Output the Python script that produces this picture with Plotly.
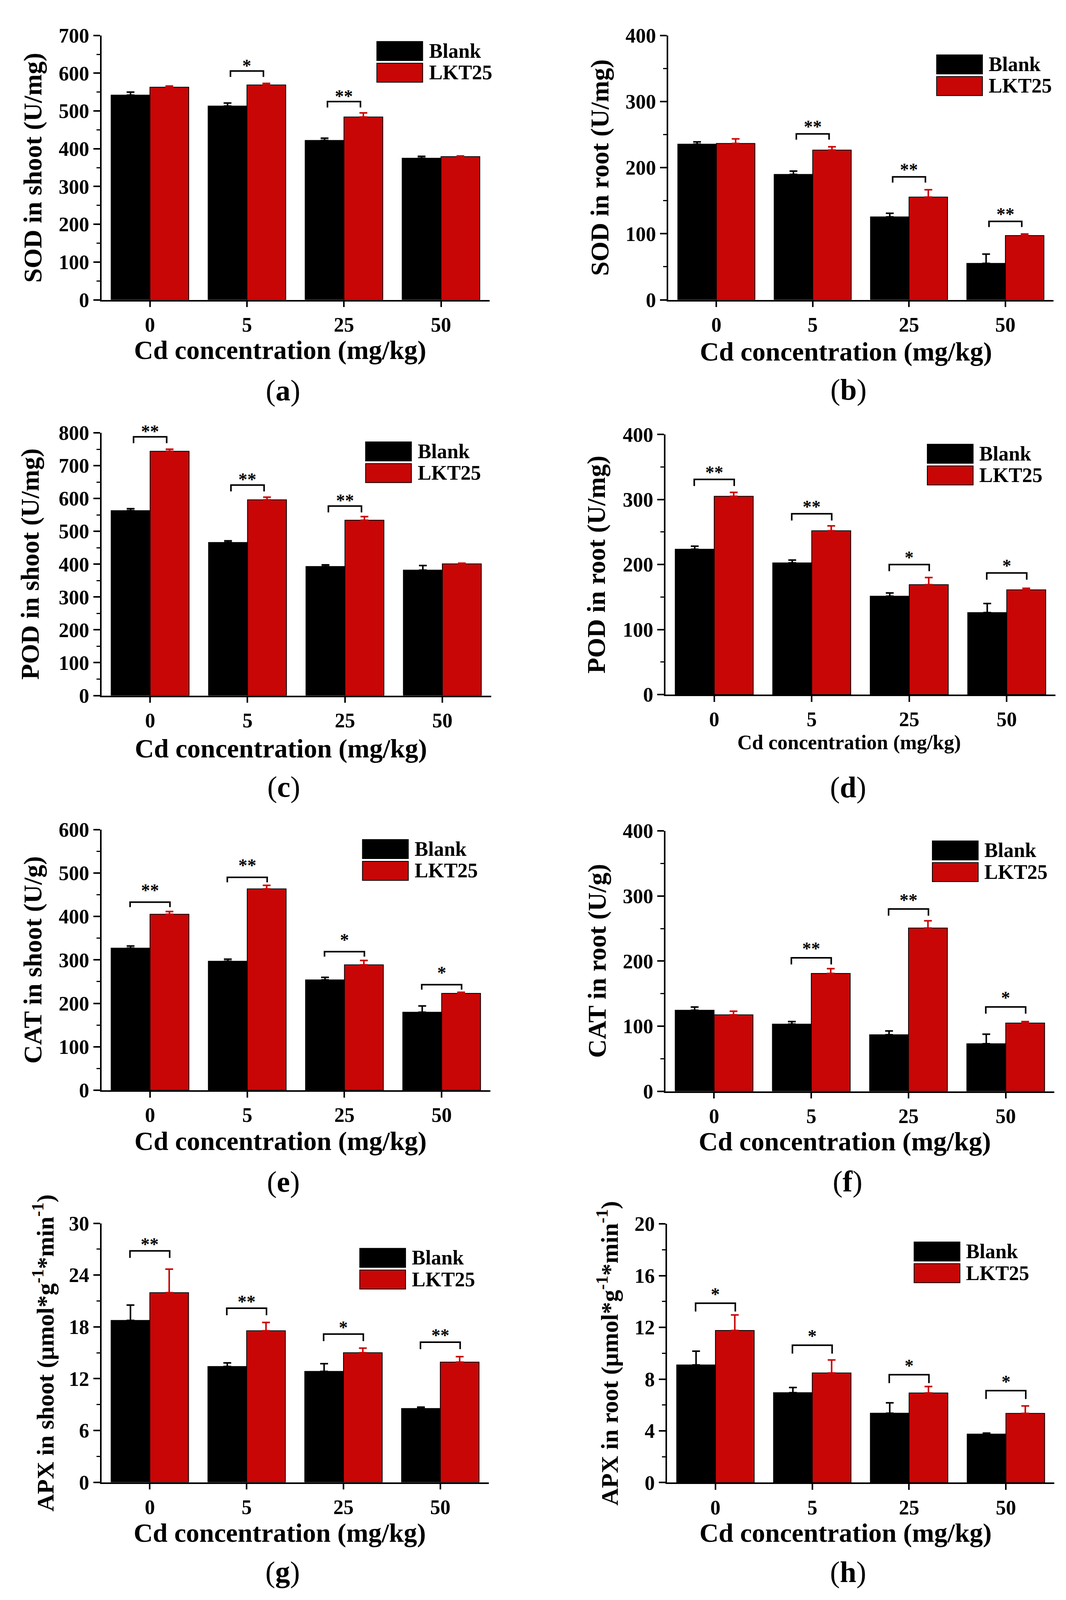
import plotly.graph_objects as go

# categories on the x axis (Cd concentration, mg/kg)
categories = ["0", "5", "25", "50"]

# (a) SOD in shoot
sod_shoot_blank = [542, 513, 422, 375]
sod_shoot_blank_err = [8, 8, 6, 5]
sod_shoot_lkt = [563, 569, 484, 379]
sod_shoot_lkt_err = [3, 4, 11, 2]
sod_shoot_sig = ["", "*", "**", ""]
sod_shoot_sig_y = [None, 606, 525, None]

# (b) SOD in root
sod_root_blank = [235.5, 189.7, 125.4, 55.2]
sod_root_blank_err = [3.5, 5, 5.6, 14]
sod_root_lkt = [236.6, 226.5, 155.5, 97.3]
sod_root_lkt_err = [7, 5, 11, 2.3]
sod_root_sig = ["", "**", "**", "**"]
sod_root_sig_y = [None, 251, 186, 118.7]

# (c) POD in shoot
pod_shoot_blank = [563, 466, 393, 382]
pod_shoot_blank_err = [6, 5, 5, 14]
pod_shoot_lkt = [744, 596, 534, 401]
pod_shoot_lkt_err = [6, 8, 11, 2]
pod_shoot_sig = ["**", "**", "**", ""]
pod_shoot_sig_y = [788, 641, 577, None]

# (d) POD in root
pod_root_blank = [223.5, 202.5, 151.3, 126]
pod_root_blank_err = [4.7, 4.3, 5, 14]
pod_root_lkt = [305, 252, 169, 161]
pod_root_lkt_err = [6, 7.4, 11, 2.5]
pod_root_sig = ["**", "**", "*", "*"]
pod_root_sig_y = [331, 278, 200, 187]

# (e) CAT in shoot
cat_shoot_blank = [327, 297, 254, 179.5]
cat_shoot_blank_err = [5, 4.6, 5.8, 14.5]
cat_shoot_lkt = [405, 463.5, 288.7, 223]
cat_shoot_lkt_err = [6.4, 8, 10, 2.4]
cat_shoot_sig = ["**", "**", "*", "*"]
cat_shoot_sig_y = [433, 490, 319, 243]

# (f) CAT in root
cat_root_blank = [124.4, 103.1, 86.8, 72.9]
cat_root_blank_err = [5, 3.9, 5.8, 14.7]
cat_root_lkt = [117.4, 181, 250.8, 104.7]
cat_root_lkt_err = [5.5, 7.4, 11, 2.3]
cat_root_sig = ["", "**", "**", "*"]
cat_root_sig_y = [None, 205, 280, 129.5]

# (g) APX in shoot
apx_shoot_blank = [18.75, 13.41, 12.84, 8.55]
apx_shoot_blank_err = [1.77, 0.42, 0.9, 0.15]
apx_shoot_lkt = [21.96, 17.55, 15.0, 13.92]
apx_shoot_lkt_err = [2.73, 0.96, 0.54, 0.63]
apx_shoot_sig = ["**", "**", "*", "**"]
apx_shoot_sig_y = [26.8, 20.16, 17.16, 16.23]

# (h) APX in root
apx_root_blank = [9.1, 6.95, 5.37, 3.75]
apx_root_blank_err = [1.06, 0.4, 0.8, 0.08]
apx_root_lkt = [11.76, 8.48, 6.93, 5.35]
apx_root_lkt_err = [1.2, 1.0, 0.5, 0.58]
apx_root_sig = ["*", "*", "*", "*"]
apx_root_sig_y = [13.87, 10.62, 8.34, 7.11]

y_titles = [
    "SOD in shoot (U/mg)", "SOD in root (U/mg)",
    "POD in shoot (U/mg)", "POD in root (U/mg)",
    "CAT in shoot (U/g)", "CAT in root (U/g)",
    "APX in shoot (μmol*g<sup>-1</sup>*min<sup>-1</sup>)",
    "APX in root (μmol*g<sup>-1</sup>*min<sup>-1</sup>)",
]
y_max = [700, 400, 800, 400, 600, 400, 30, 20]
y_dtick = [100, 100, 100, 100, 100, 100, 6, 4]
panel_labels = ["a", "b", "c", "d", "e", "f", "g", "h"]
x_title = "Cd concentration (mg/kg)"
legend_names = ["Blank", "LKT25"]

series = [
    (sod_shoot_blank, sod_shoot_blank_err, sod_shoot_lkt, sod_shoot_lkt_err, sod_shoot_sig, sod_shoot_sig_y),
    (sod_root_blank, sod_root_blank_err, sod_root_lkt, sod_root_lkt_err, sod_root_sig, sod_root_sig_y),
    (pod_shoot_blank, pod_shoot_blank_err, pod_shoot_lkt, pod_shoot_lkt_err, pod_shoot_sig, pod_shoot_sig_y),
    (pod_root_blank, pod_root_blank_err, pod_root_lkt, pod_root_lkt_err, pod_root_sig, pod_root_sig_y),
    (cat_shoot_blank, cat_shoot_blank_err, cat_shoot_lkt, cat_shoot_lkt_err, cat_shoot_sig, cat_shoot_sig_y),
    (cat_root_blank, cat_root_blank_err, cat_root_lkt, cat_root_lkt_err, cat_root_sig, cat_root_sig_y),
    (apx_shoot_blank, apx_shoot_blank_err, apx_shoot_lkt, apx_shoot_lkt_err, apx_shoot_sig, apx_shoot_sig_y),
    (apx_root_blank, apx_root_blank_err, apx_root_lkt, apx_root_lkt_err, apx_root_sig, apx_root_sig_y),
]

# layout is designed on a 2728 x 4702 sheet, placed in paper fractions so the
# figure can fill whatever viewport the page gets
W, H = 2728, 4702
FONT = "Liberation Serif"
BLACK = "#000000"
RED = "#C80606"

# page pixels: axis left, axis right, axis top, axis bottom
boxes = [
    (253, 1252, 64, 855), (1712, 2704, 64, 855),
    (253, 1256, 1253, 2039), (1705, 2709, 1258, 2036),
    (253, 1254, 2440, 3220), (1705, 2706, 2444, 3223),
    (253, 1250, 3618, 4393), (1709, 2706, 3620, 4394),
]
legend_pos = [(962, 82), (2403, 122), (933, 1280), (2379, 1287),
              (925, 2470), (2392, 2474), (918, 3693), (2345, 3674)]
ytitle_off = [176, 176, 183, 178, 176, 176, 149, 153]
ytitle_size = [66, 66, 66, 66, 66, 66, 62, 62]
# pixel offsets below the x axis line
xtitle_off = [128, 132, 135, 123, 130, 128, 129, 129]
xtitle_size = [68, 68, 68, 52, 68, 68, 68, 68]
xtitle_frac = [0.461, 0.461, 0.461, 0.471, 0.461, 0.461, 0.461, 0.461]
label_off = [232, 230, 234, 238, 234, 231, 230, 229]
bracket_hw = [0.17, 0.17, 0.17, 0.205, 0.205, 0.205, 0.205, 0.205]
bracket_leg = [18, 17, 19, 20, 15, 20, 21, 25]
star_off = [19, 24, 20, 24, 36, 29, 23, 29]


def px(x):
    return x / W


def py(y):
    return 1 - y / H


fig = go.Figure()
shapes = []
annotations = []

for i, (b, be, l, le, sig, sig_y) in enumerate(series):
    n = "" if i == 0 else str(i + 1)
    xa, ya = "x" + n, "y" + n
    x0, x1, yt, yb = boxes[i]
    for vals, errs, col in ((b, be, BLACK), (l, le, RED)):
        fig.add_trace(go.Bar(
            x=categories, y=vals, xaxis=xa, yaxis=ya, showlegend=False,
            marker=dict(color=col, line=dict(color=BLACK, width=2)),
            error_y=dict(type="data", array=errs, arrayminus=[0] * len(errs),
                         symmetric=False, color=col, thickness=4, width=10),
        ))

    ax = dict(domain=[px(x0), px(x1)], anchor=ya, range=[-0.5, 3.5],
              showline=True, linecolor=BLACK, linewidth=3.5,
              ticks="outside", ticklen=15, tickwidth=3.5, tickcolor=BLACK,
              tickfont=dict(family=FONT, size=52, color=BLACK, weight="bold"),
              showgrid=False, zeroline=False, fixedrange=True)
    ay = dict(domain=[py(yb), py(yt)], anchor=xa, range=[0, y_max[i]],
              dtick=y_dtick[i], showline=True, linecolor=BLACK, linewidth=3.5,
              ticks="outside", ticklen=17, tickwidth=3.5, tickcolor=BLACK,
              tickfont=dict(family=FONT, size=52, color=BLACK, weight="bold"),
              minor=dict(dtick=y_dtick[i] / 2, ticks="outside", ticklen=9,
                         tickwidth=3, tickcolor=BLACK),
              showgrid=False, zeroline=False, fixedrange=True)
    fig.update_layout({"xaxis" + n: ax, "yaxis" + n: ay})

    # significance brackets
    unit = y_max[i] / (yb - yt)
    leg = bracket_leg[i] * unit
    hw = bracket_hw[i]
    for k, s in enumerate(sig):
        if not s:
            continue
        yy = sig_y[k]
        shapes.append(dict(
            type="path", xref=xa, yref=ya,
            path=f"M {k - hw},{yy - leg} L {k - hw},{yy} L {k + hw},{yy} L {k + hw},{yy - leg}",
            line=dict(color=BLACK, width=4)))
        annotations.append(dict(
            x=k, y=yy, xref=xa, yref=ya, text=s, showarrow=False,
            yanchor="middle", yshift=star_off[i] - 6,
            font=dict(family=FONT, size=46, color=BLACK, weight="bold")))

    # legend drawn by hand (large swatches)
    lx, ly = legend_pos[i]
    for j, col in enumerate((BLACK, RED)):
        top = ly + j * 65
        shapes.append(dict(type="rect", xref="paper", yref="paper",
                           x0=px(lx), x1=px(lx + 118), y0=py(top + 57), y1=py(top),
                           fillcolor=col, line=dict(color=BLACK, width=2)))
        annotations.append(dict(
            x=px(lx + 132), y=py(top + 28), xref="paper", yref="paper",
            text=legend_names[j], showarrow=False, xanchor="left", yanchor="middle",
            font=dict(family=FONT, size=52, color=BLACK, weight="bold")))

    # axis titles
    annotations.append(dict(
        x=-ytitle_off[i] / (x1 - x0), y=0.5, xref=xa + " domain", yref=ya + " domain",
        text=y_titles[i], textangle=-90, showarrow=False,
        xanchor="center", yanchor="middle",
        font=dict(family=FONT, size=ytitle_size[i], color=BLACK, weight="bold")))
    annotations.append(dict(
        x=xtitle_frac[i], y=0, xref=xa + " domain", yref=ya + " domain",
        yshift=-xtitle_off[i], text=x_title, showarrow=False,
        xanchor="center", yanchor="middle",
        font=dict(family=FONT, size=xtitle_size[i], color=BLACK, weight="bold")))
    # panel label
    annotations.append(dict(
        x=0.468, y=0, xref=xa + " domain", yref=ya + " domain",
        yshift=-label_off[i], text="(<b>" + panel_labels[i] + "</b>)", showarrow=False,
        xanchor="center", yanchor="middle",
        font=dict(family=FONT, size=76, color=BLACK)))

fig.update_layout(
    autosize=True, margin=dict(l=0, r=0, t=0, b=0),
    paper_bgcolor="white", plot_bgcolor="white",
    barmode="group", bargap=0.2, bargroupgap=0,
    shapes=shapes, annotations=annotations,
    font=dict(family=FONT, color=BLACK),
)

# the figure fills the browser window (minus the default body margin)
fig.write_html("out.html", default_width="calc(100vw - 16px)",
               default_height="calc(100vh - 16px)")
